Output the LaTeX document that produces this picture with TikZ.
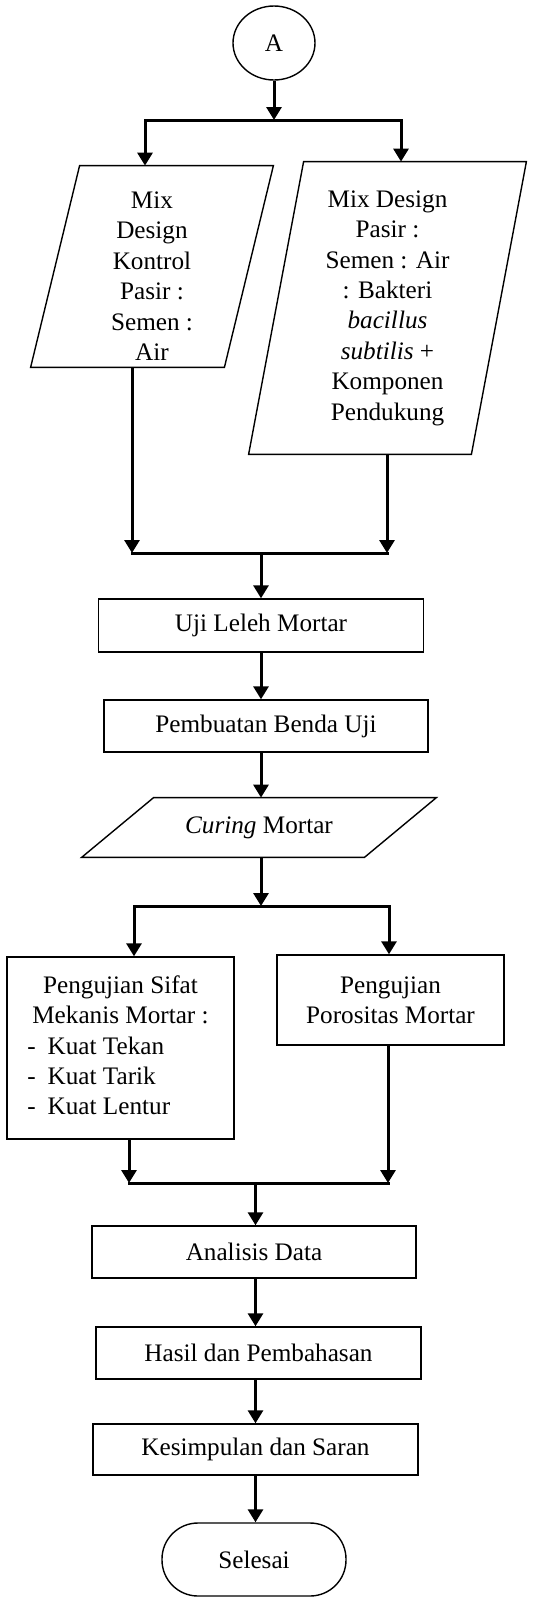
\documentclass[tikz,border=0pt]{standalone}
\usepackage{fontspec}
\setmainfont{Liberation Serif}
\usepackage{tikz}
\usetikzlibrary{shapes.geometric,positioning}
\usetikzlibrary{arrows.meta}
\tikzset{
    % 矩形框
    boxnode/.style={
        draw,
        line width=0.7pt,
        rectangle,
        inner sep=0pt,
        align=center
    },
    % 平行四边形的文字区域（边框另画）
    paranode/.style={
        rectangle,
        inner sep=0pt,
        align=center
    },
    paraedge/.style={
        line width=0.7pt,
        line join=miter
    },
    flowarrow/.style={
        line width=1.5pt,
        black,
        ->,
        >={Triangle[length=6.5pt, width=7.5pt]}
    },
    flowline/.style={
        line width=1.5pt,
        black,
        line cap=rect
    }
}

\begin{document}
\begin{tikzpicture}[x=0.5pt, y=-0.5pt, font=\fontsize{12.6}{15.2}\selectfont]
   \useasboundingbox (0,0) rectangle (552,1597);
   \path
    (274,120) coordinate (s1)
    (145,120) coordinate (s1l)
    (401,120) coordinate (s1r)
    (132,553) coordinate (m1l)
    (387,553) coordinate (m1r)
    (134,906) coordinate (s2l)
    (389,906) coordinate (s2r)
    (129,1183) coordinate (m2l)
    (388,1183) coordinate (m2r);

    % 流程节点
    \node[ellipse, draw, line width=0.7pt, minimum width=41pt, minimum height=37pt, inner sep=0pt] (A) at (274,43) {A};
    \node[paranode, minimum width=96.5pt, minimum height=100.5pt] (kontrol) at (152,266.5)
          {\raisebox{-6pt}[\height][\depth]{\begin{tabular}{@{}c@{}}Mix\\Design\\Kontrol\\Pasir :\\Semen :\\Air\end{tabular}}};
    \node[paranode, minimum width=111pt, minimum height=146pt] (bakteri) at (387.5,308)
          {Mix Design\\Pasir :\\Semen : Air\\: Bakteri\\\textit{bacillus}\\\textit{subtilis} +\\Komponen\\Pendukung};
    \node[boxnode, minimum width=162.5pt, minimum height=26.5pt] (leleh) at (261,625.5) {Uji Leleh Mortar};
    \node[boxnode, minimum width=162pt, minimum height=26pt] (benda) at (266,726) {Pembuatan Benda Uji};
    \node[paranode, minimum width=141pt, minimum height=29.5pt] (curing) at (259,827.5) {\textit{Curing} Mortar};
    \node[boxnode, minimum width=113.5pt, minimum height=91pt] (mekanis) at (120.5,1048)
          {\begin{tabular}{@{}l@{}}
           \multicolumn{1}{@{}c@{}}{Pengujian Sifat}\\
           Mekanis Mortar :\\
           \hspace*{-2.5pt}-\hspace{6pt}Kuat Tekan\\
           \hspace*{-2.5pt}-\hspace{6pt}Kuat Tarik\\
           \hspace*{-2.5pt}-\hspace{6pt}Kuat Lentur
           \end{tabular}};
    \node[boxnode, minimum width=113.5pt, minimum height=45pt] (porositas) at (390.5,1000) {Pengujian\\Porositas Mortar};
    \node[boxnode, minimum width=162pt, minimum height=26pt] (analisis) at (254,1252) {Analisis Data};
    \node[boxnode, minimum width=162.5pt, minimum height=26pt] (hasil) at (258.5,1353) {Hasil dan Pembahasan};
    \node[boxnode, minimum width=162.5pt, minimum height=25.5pt] (kesimpulan) at (255.5,1449.5) {Kesimpulan dan Saran};
    \node[draw, line width=0.7pt, rounded corners=18pt, minimum width=92pt, minimum height=36.5pt] (selesai) at (254,1559.5) {Selesai};

    % 平行四边形边框
    \draw[paraedge] ([xshift=12.25pt]kontrol.north west) -- ([xshift=12.25pt]kontrol.north east)
        -- ([xshift=-12.25pt]kontrol.south east) -- ([xshift=-12.25pt]kontrol.south west) -- cycle;
    \draw[paraedge] ([xshift=13.75pt]bakteri.north west) -- ([xshift=13.75pt]bakteri.north east)
        -- ([xshift=-13.75pt]bakteri.south east) -- ([xshift=-13.75pt]bakteri.south west) -- cycle;
    \draw[paraedge] ([xshift=18pt]curing.north west) -- ([xshift=18pt]curing.north east)
        -- ([xshift=-18pt]curing.south east) -- ([xshift=-18pt]curing.south west) -- cycle;

    % 分支与汇合
    \draw[flowarrow] (A.south) -- (s1);
    \draw[flowline] (s1l) -- (s1r);
    \draw[flowarrow] (s1l) -- (s1l |- kontrol.north);
    \draw[flowarrow] (s1r) -- (s1r |- bakteri.north);
    \draw[flowarrow] (m1l |- kontrol.south) -- (m1l);
    \draw[flowarrow] (m1r |- bakteri.south) -- (m1r);
    \draw[flowline] (m1l) -- (m1r);
    \draw[flowarrow] (leleh.north |- m1l) -- (leleh.north);
    \draw[flowarrow] (leleh.south) -- (leleh.south |- benda.north);
    \draw[flowarrow] (leleh.south |- benda.south) -- (leleh.south |- curing.north);
    \draw[flowarrow] (leleh.south |- curing.south) -- (leleh.south |- s2l);
    \draw[flowline] (s2l) -- (s2r);
    \draw[flowarrow] (s2l) -- (s2l |- mekanis.north);
    \draw[flowarrow] (s2r) -- (s2r |- porositas.north);
    \draw[flowarrow] (m2l |- mekanis.south) -- (m2l);
    \draw[flowarrow] (m2r |- porositas.south) -- (m2r);
    \draw[flowline] (m2l) -- (m2r);
    \draw[flowarrow] (kesimpulan.north |- m2l) -- (kesimpulan.north |- analisis.north);
    \draw[flowarrow] (kesimpulan.north |- analisis.south) -- (kesimpulan.north |- hasil.north);
    \draw[flowarrow] (kesimpulan.north |- hasil.south) -- (kesimpulan.north);
    \draw[flowarrow] (kesimpulan.south) -- (kesimpulan.south |- selesai.north);

\end{tikzpicture}
\end{document}
